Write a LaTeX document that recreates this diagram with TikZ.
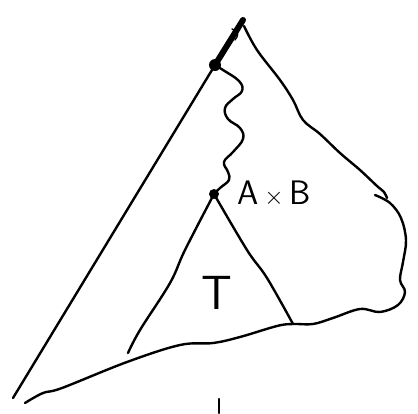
\documentclass[tikz,border=0pt]{standalone}
\usepackage{tikz}
\usetikzlibrary{positioning}

\begin{document}
\begin{tikzpicture}[x=1pt, y=-1pt, line cap=round, line join=round,
  dot/.style={circle, fill, inner sep=0pt, minimum size=12pt},
  hand/.style={font=\sffamily\fontsize{34}{34}\selectfont, inner sep=0pt},
  pen/.style={line width=2.4pt}]
\useasboundingbox (0,0) rectangle (418,413);
\node[dot] (top) at (215,65) {};
\node[dot, minimum size=10pt] (prod) at (214,194) {};
\coordinate (tip) at (243,20);
\coordinate (bl) at (13,398);
\coordinate (tl) at (128,353);
\coordinate (tr) at (293,324);
\node[hand] (axb) at (274,194) {A\,$\times$\,B};
\node[hand, font=\sffamily\fontsize{48}{48}\selectfont] (t) at (217,293) {T};
\draw[line width=6pt] (top.center) -- (tip);
\draw[line width=1.4pt] (232,29) .. controls (240,32) and (238,36) .. (235,40);
\draw[pen] (top.center) -- (bl);
\draw[pen] plot[smooth, tension=0.7] coordinates {(top.center) (223,70) (239,81) (242,91) (233,99) (225,108) (228,119) (240,128) (243,139) (233,152) (224,162) (228,172) (229,180) (220,188) (prod.center)};
\draw[pen] plot[smooth, tension=0.6] coordinates {(prod.center) (185,250) (170,283) (140,330) (tl)};
\draw[pen] plot[smooth, tension=0.6] coordinates {(prod.center) (247,250) (267,278) (tr)};
\draw[pen] plot[smooth, tension=0.6] coordinates {(25,403) (43,393) (62,388) (127,362) (180,345) (213,343) (240,337) (277,326) (tr) (313,324) (333,318) (360,309) (380,312) (398,305) (405,292) (400,280) (403,262) (406,240) (401,218) (390,203) (375,195)};
\draw[pen] plot[smooth, tension=0.6] coordinates {(387,198) (384,192) (377,186) (360,170) (340,153) (320,134) (303,120) (293,100) (280,80) (257,50) (244,26)};
\draw[pen] (219,399) -- (219,413);
\end{tikzpicture}
\end{document}
